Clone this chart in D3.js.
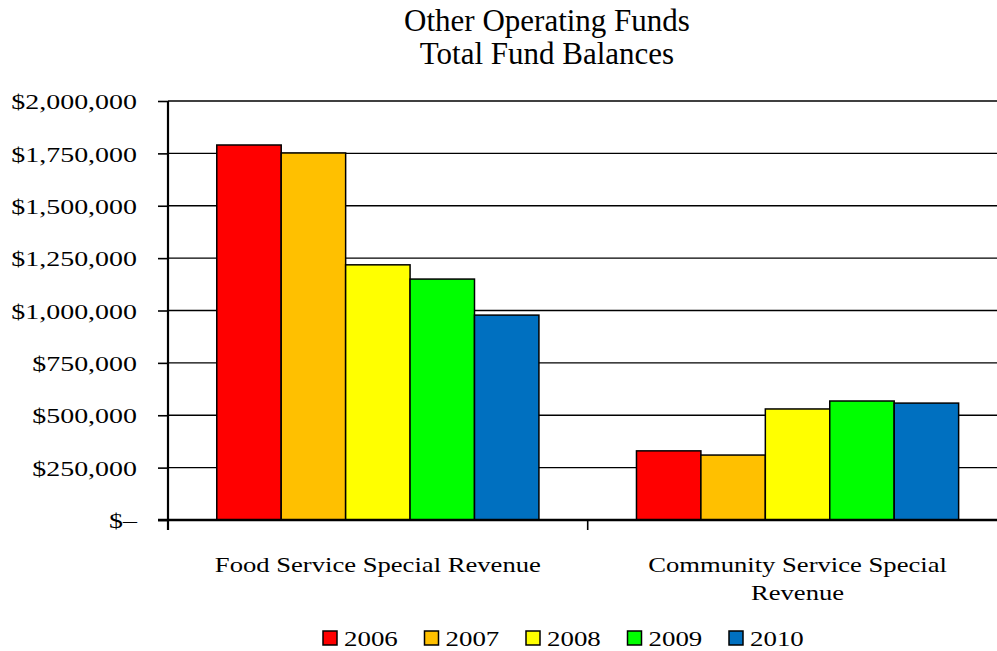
<!DOCTYPE html>
<html>
<head>
<meta charset="utf-8">
<script src="https://cdn.jsdelivr.net/npm/d3@7"></script>
<style>
  html, body { margin: 0; padding: 0; background: #fff; }
  svg { display: block; }
  text { font-family: "Liberation Serif", "Times New Roman", serif; fill: #000; }
</style>
</head>
<body>
<svg id="chart" width="997" height="651"></svg>
<script>
// ---- data ----
const titleLines = ["Other Operating Funds", "Total Fund Balances"];
const categories = ["Food Service Special Revenue", "Community Service Special Revenue"];
const years = ["2006", "2007", "2008", "2009", "2010"];
const values2006 = [1790000, 330000];
const values2007 = [1752000, 310000];
const values2008 = [1218000, 530000];
const values2009 = [1150000, 568000];
const values2010 = [978000, 558000];
const yTicks = [0, 250000, 500000, 750000, 1000000, 1250000, 1500000, 1750000, 2000000];
const colors = ["#FF0000", "#FFC000", "#FFFF00", "#00FF00", "#0070C0"];

const seriesValues = [values2006, values2007, values2008, values2009, values2010];

(function () {
// ---- layout ----
const svg = d3.select("#chart");
const W = 997;
const mLeft = 168, mBottom = 520, mTop = 101;
const catStep = 419.7;
const mRight = mLeft + catStep * categories.length;

const y = d3.scaleLinear().domain([0, 2000000]).range([mBottom, mTop]);
const x0 = d3.scaleBand().domain(categories).range([mLeft, mRight]).padding(0);
const x1 = d3.scaleBand().domain(years).range([0, x0.bandwidth()]).paddingInner(0).paddingOuter(0.757);

function stretch(sel, f) {
  sel.each(function() {
    const len = this.getComputedTextLength();
    d3.select(this).attr("textLength", len * f).attr("lengthAdjust", "spacingAndGlyphs");
  });
}

// title
svg.append("g").selectAll("text").data(titleLines).join("text")
  .attr("x", 547).attr("y", (d, i) => 31 + i * 33)
  .attr("text-anchor", "middle").attr("font-size", 31)
  .text(d => d);

// gridlines
svg.append("g").selectAll("line").data(yTicks.filter(t => t > 0)).join("line")
  .attr("x1", mLeft).attr("x2", W)
  .attr("y1", d => y(d)).attr("y2", d => y(d))
  .attr("stroke", "#000").attr("stroke-width", 1.4);

// bars
const groups = svg.append("g").selectAll("g").data(categories).join("g")
  .attr("transform", d => `translate(${x0(d)},0)`);
groups.selectAll("rect")
  .data((c, ci) => years.map((yr, si) => ({ yr, si, v: seriesValues[si][ci] })))
  .join("rect")
  .attr("x", d => x1(d.yr))
  .attr("width", x1.bandwidth())
  .attr("y", d => y(d.v))
  .attr("height", d => mBottom - y(d.v))
  .attr("fill", d => colors[d.si])
  .attr("stroke", "#000").attr("stroke-width", 1.5);

// y axis
const fmt = d3.format(",");
const yAxis = d3.axisLeft(y).tickValues(yTicks).tickSize(10).tickPadding(21)
  .tickFormat(d => d === 0 ? "$\u2013" : "$" + fmt(d));
const gy = svg.append("g").attr("transform", `translate(${mLeft},0)`).call(yAxis);
gy.select(".domain").attr("stroke", "#000").attr("stroke-width", 2.2)
  .attr("d", `M0,${mTop}V${mBottom + 10}`);
gy.selectAll(".tick line").attr("stroke", "#000").attr("stroke-width", 1.6);
gy.selectAll(".tick text").attr("font-size", 22).attr("font-family", "Liberation Serif").attr("fill", "#000").attr("dy", "0.35em");
stretch(gy.selectAll(".tick text"), 1.27);

// x axis
const gx = svg.append("g");
gx.append("line").attr("x1", mLeft - 10).attr("x2", W).attr("y1", mBottom).attr("y2", mBottom)
  .attr("stroke", "#000").attr("stroke-width", 2.4);
gx.selectAll("line.tk").data(categories.concat(["__end"])).join("line").attr("class", "tk")
  .attr("x1", (d, i) => mLeft + i * catStep).attr("x2", (d, i) => mLeft + i * catStep)
  .attr("y1", mBottom).attr("y2", mBottom + 10)
  .attr("stroke", "#000").attr("stroke-width", 1.6);

// category labels with wrapping
const maxLabel = 395;
categories.forEach(cat => {
  const cx = x0(cat) + x0.bandwidth() / 2;
  const words = cat.split(" ");
  const lines = [];
  let cur = [];
  const probe = svg.append("text").attr("font-size", 22);
  words.forEach(w => {
    const test = cur.concat([w]).join(" ");
    probe.text(test);
    if (probe.node().getComputedTextLength() * 1.21 > maxLabel && cur.length) {
      lines.push(cur.join(" "));
      cur = [w];
    } else cur.push(w);
  });
  lines.push(cur.join(" "));
  probe.remove();
  const t = svg.append("g").selectAll("text").data(lines).join("text")
    .attr("x", cx).attr("y", (d, i) => 572 + i * 27.5)
    .attr("text-anchor", "middle").attr("font-size", 22)
    .text(d => d);
  stretch(t, 1.21);
});

// legend
const lg = svg.append("g").selectAll("g").data(years).join("g")
  .attr("transform", (d, i) => `translate(${323 + i * 101.5},631)`);
lg.append("rect").attr("width", 14).attr("height", 14)
  .attr("fill", (d, i) => colors[i]).attr("stroke", "#000").attr("stroke-width", 1.5);
const lt = lg.append("text").attr("x", 21).attr("y", 14.5).attr("font-size", 21.5).text(d => d);
stretch(lt, 1.25);
})();
</script>
</body>
</html>
